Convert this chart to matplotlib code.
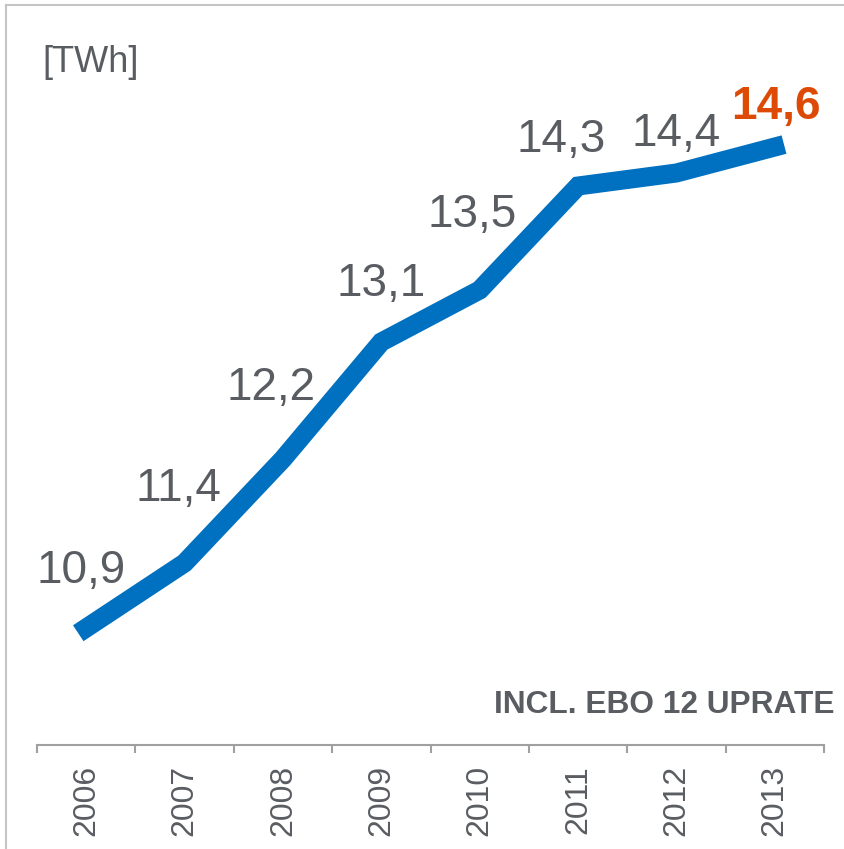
import matplotlib
matplotlib.use("Agg")
import matplotlib.pyplot as plt
from matplotlib.lines import Line2D

years = ["2006", "2007", "2008", "2009", "2010", "2011", "2012", "2013"]
twh = [10.9, 11.4, 12.2, 13.1, 13.5, 14.3, 14.4, 14.6]
labels = ["10,9", "11,4", "12,2", "13,1", "13,5", "14,3", "14,4", "14,6"]

# label offsets in pixels (dx, dy of baseline relative to the point)
offs = [(-5, 45), (-6, 62), (-12, 59), (0, 46), (-8, 63), (-17, 34), (0, 27), (1, 28)]

grey = "#595d62"
blue = "#0070c0"
orange = "#dc4a06"

plt.rcParams["font.family"] = ["Liberation Sans", "DejaVu Sans"]

W, H = 844, 849
fig = plt.figure(figsize=(W / 100, H / 100), dpi=100)
ax = fig.add_axes([37 / W, 104 / H, 787 / W, 740 / H])

x = list(range(len(years)))
ax.plot(x, twh, color=blue, lw=13.7, solid_capstyle="projecting",
        solid_joinstyle="miter")

ax.set_xlim(-0.5, len(years) - 0.5)
ax.set_ylim(10, 10 + 740 / 130)

for s in ["top", "left", "right"]:
    ax.spines[s].set_visible(False)
ax.spines["bottom"].set_color("#a0a0a0")
ax.spines["bottom"].set_linewidth(1.5)
ax.yaxis.set_visible(False)

ax.set_xticks([i - 0.5 for i in range(len(years) + 1)])
ax.set_xticklabels([])
ax.tick_params(axis="x", which="major", length=5.8, width=1.5, color="#a0a0a0")
ax.set_xticks(x, minor=True)
ax.set_xticklabels(years, minor=True, rotation=90, fontsize=23, color=grey)
ax.tick_params(axis="x", which="minor", length=0, pad=14.4)

for i, (lab, (dx, dy)) in enumerate(zip(labels, offs)):
    last = i == len(labels) - 1
    ax.annotate(lab, (x[i], twh[i]), xytext=(dx * 0.72, dy * 0.72),
                textcoords="offset points", ha="center", va="baseline",
                fontsize=33, color=orange if last else grey,
                fontweight="bold" if last else "normal")

fig.text(42 / W, 1 - 72 / H, "[TWh]", fontsize=26, color=grey, va="baseline")
fig.text(835 / W, 1 - 713 / H, "INCL. EBO 12 UPRATE", fontsize=22.8,
         fontweight="bold", color=grey, ha="right", va="baseline")

# light frame on the left and top
fig.add_artist(Line2D([6 / W, 6 / W], [0, 1 - 5 / H], color="#c4c4c4", lw=1.5))
fig.add_artist(Line2D([6 / W, 1], [1 - 5 / H, 1 - 5 / H], color="#c4c4c4", lw=1.5))

fig.savefig("out.png", dpi=100)
